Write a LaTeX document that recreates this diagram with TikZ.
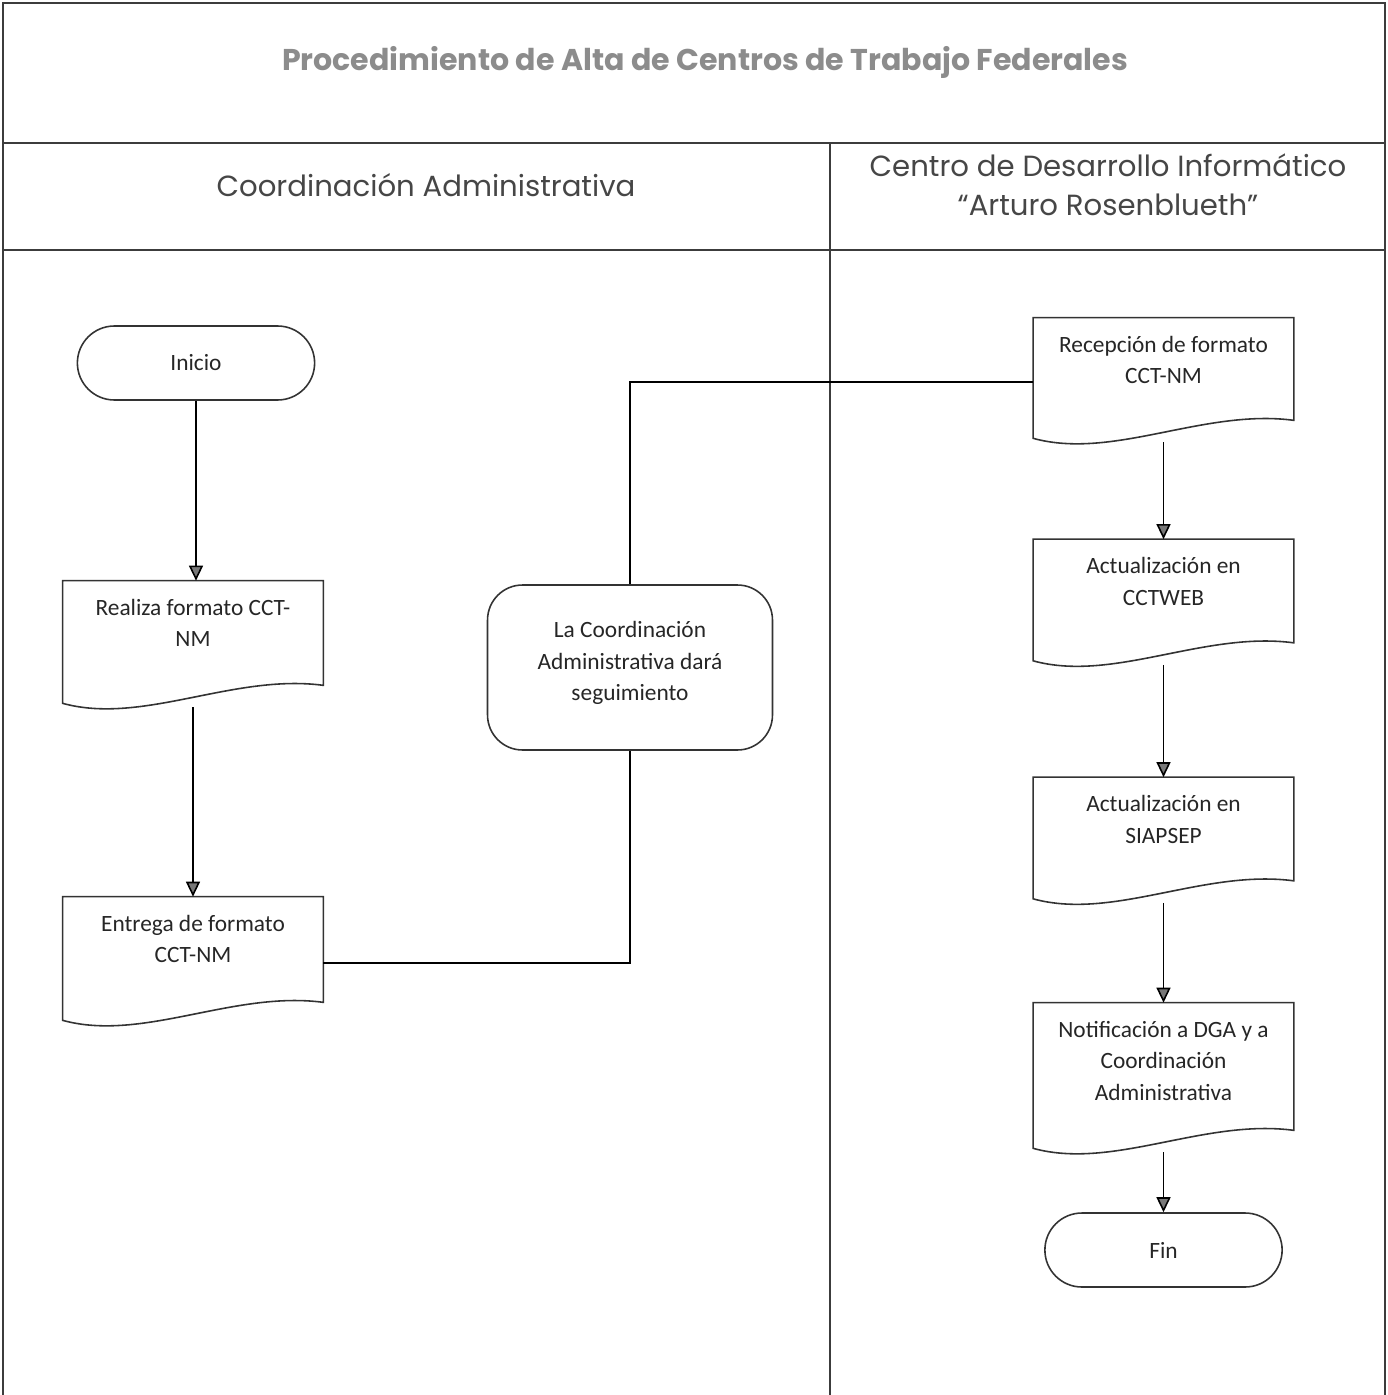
\documentclass[tikz,border=0pt]{standalone}
\usepackage{fontspec}
\setmainfont{Carlito}
\newfontfamily\hdrfont{Poppins}
\usetikzlibrary{shapes.misc,arrows.meta,calc}
\definecolor{framec}{RGB}{60,60,60}
\definecolor{titlec}{RGB}{140,140,140}
\definecolor{hdrc}{RGB}{70,70,70}
\definecolor{tipc}{RGB}{120,120,120}
\begin{document}
\begin{tikzpicture}[x=0.02cm,y=-0.02cm,
  frameline/.style={draw=framec,line width=0.6pt},
  txt/.style={font=\fontsize{13.3pt}{18pt}\selectfont,align=center,text=black!85},
  lbl/.style={txt,anchor=north,inner sep=0pt,yshift=-0.36cm},
  docbox/.style={draw=none,minimum width=5.2cm,inner sep=0pt},
  stadium/.style={rounded rectangle,draw=black!80,line width=0.9pt,minimum width=4.98cm,minimum height=1.48cm,txt},
  procbox/.style={rectangle,rounded corners=0.7cm,draw=black!80,line width=0.9pt,minimum width=5.7cm,minimum height=3.3cm,txt},
  docline/.style={draw=black!80,line width=0.9pt},
  conn/.style={draw=black,line width=0.9pt},
  arr/.style={conn,-{Triangle[fill=tipc,length=0.3cm,width=0.28cm]}}
]
\useasboundingbox (0,0) rectangle (1388,1395);
% frame
\draw[frameline] (3,1395) -- (3,3) -- (1385,3) -- (1385,1395);
\draw[frameline] (3,143) -- (1385,143);
\draw[frameline] (3,250) -- (1385,250);
\draw[frameline] (830,143) -- (830,1395);
% titles
\node[font=\hdrfont\bfseries\fontsize{17.1pt}{20pt}\selectfont,text=titlec] (title) at (705,62) {Procedimiento de Alta de Centros de Trabajo Federales};
\node[font=\hdrfont\fontsize{16.6pt}{22pt}\selectfont,text=hdrc] (hA) at (426,185) {Coordinación Administrativa};
\node[font=\hdrfont\fontsize{16.6pt}{22pt}\selectfont,text=hdrc,align=center] (hB) at (1108,185) {Centro de Desarrollo Informático\\“Arturo Rosenblueth”};
% nodes
\node[stadium] (inicio) at (196,363) {Inicio};
\node[docbox,minimum height=2.44cm,label={[lbl]north:Realiza formato CCT-\\NM}] (realiza) at (193,642) {};
\node[docbox,minimum height=2.46cm,label={[lbl]north:Entrega de formato\\CCT-NM}] (entrega) at (193,958.5) {};
\node[procbox,label={[txt,yshift=0.09cm]center:La Coordinación\\Administrativa dará\\seguimiento}] (segui) at (630,667.5) {};
\node[docbox,minimum height=2.40cm,label={[lbl]north:Recepción de formato\\CCT-NM}] (recep) at (1163.5,378) {};
\node[docbox,minimum height=2.42cm,label={[lbl]north:Actualización en\\CCTWEB}] (cctweb) at (1163.5,600) {};
\node[docbox,minimum height=2.42cm,label={[lbl]north:Actualización en\\SIAPSEP}] (siap) at (1163.5,838) {};
\node[docbox,minimum height=2.90cm,label={[lbl]north:Notificación a DGA y a\\Coordinación\\Administrativa}] (notif) at (1163.5,1075.5) {};
\node[stadium] (fin) at (1163.5,1250) {Fin};
% document outlines
\foreach \n in {realiza,entrega,recep,cctweb,siap,notif}{
  \draw[docline] (\n.south west) -- (\n.north west) -- (\n.north east) -- ($(\n.south east)+(0,-18)$)
    .. controls ($(\n.south east)+(-90,-30)$) and ($(\n.south west)+(80,22)$) .. (\n.south west) -- cycle;
}
% connectors
\draw[arr] (inicio.south) -- (inicio.south |- realiza.north);
\draw[arr] ($(realiza.south)+(0,4)$) -- (entrega.north);
\draw[conn] (entrega.east |- 0,963) -| (segui.south);
\draw[conn] (segui.north) |- (recep.west |- 0,382);
\draw[arr] ($(recep.south)+(0,4)$) -- (cctweb.north);
\draw[arr] ($(cctweb.south)+(0,4)$) -- (siap.north);
\draw[arr] ($(siap.south)+(0,4)$) -- (notif.north);
\draw[arr] ($(notif.south)+(0,4)$) -- (fin.north);
\end{tikzpicture}
\end{document}
